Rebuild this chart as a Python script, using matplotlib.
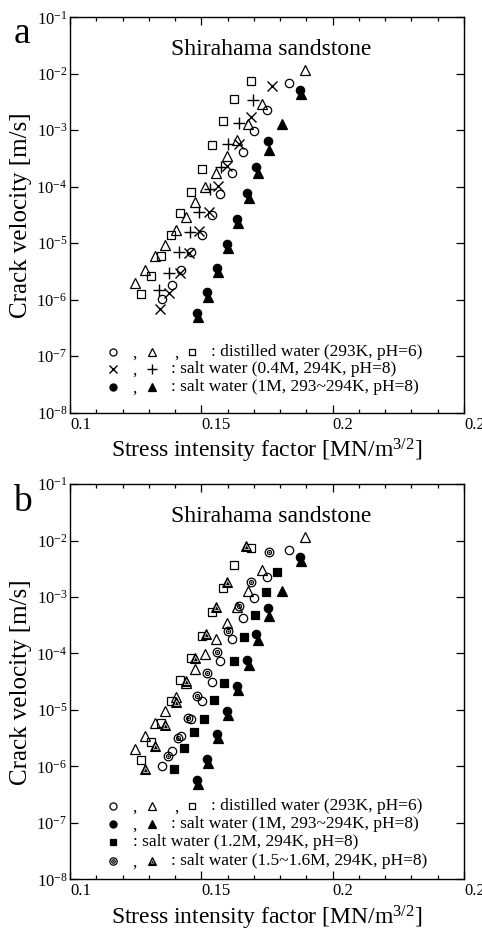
import matplotlib
matplotlib.use('Agg')
import matplotlib.pyplot as plt
from matplotlib.ticker import MultipleLocator, FixedLocator, NullLocator, FixedFormatter
import numpy as np

plt.rcParams['font.family'] = ['Liberation Serif', 'DejaVu Serif']
plt.rcParams['mathtext.fontset'] = 'custom'
plt.rcParams['mathtext.rm'] = 'Liberation Serif'
plt.rcParams['mathtext.it'] = 'Liberation Serif:italic'
plt.rcParams['mathtext.bf'] = 'Liberation Serif:bold'

# ---------------- data (K in MN/m^3/2, velocity in m/s) ----------------
dw_circle_K = [0.1835, 0.1749, 0.1700, 0.1657, 0.1617, 0.1571, 0.1539, 0.1501, 0.1459, 0.1423, 0.1387, 0.1349]
dw_circle_v = [6.84e-3, 2.26e-3, 9.7e-4, 4.18e-4, 1.77e-4, 7.4e-5, 3.17e-5, 1.41e-5, 6.9e-6, 3.39e-6, 1.84e-6, 1.02e-6]

dw_tri_K = [0.1895, 0.1730, 0.1679, 0.1635, 0.1597, 0.1556, 0.1514, 0.1476, 0.1440, 0.1404, 0.1362, 0.1324, 0.1286, 0.1247]
dw_tri_v = [1.15e-2, 2.96e-3, 1.28e-3, 6.7e-4, 3.5e-4, 1.77e-4, 9.8e-5, 5.4e-5, 2.96e-5, 1.72e-5, 9.4e-6, 5.8e-6, 3.4e-6, 2.0e-6]

dw_sq_K = [0.1688, 0.1625, 0.1581, 0.1539, 0.1501, 0.1459, 0.1419, 0.1383, 0.1346, 0.1307, 0.1269]
dw_sq_v = [7.43e-3, 3.63e-3, 1.46e-3, 5.44e-4, 2.05e-4, 8.17e-5, 3.40e-5, 1.41e-5, 5.98e-6, 2.65e-6, 1.28e-6]

s04_x_K = [0.1770, 0.1688, 0.1644, 0.1597, 0.1565, 0.1529, 0.1493, 0.1453, 0.1417, 0.1377, 0.1341]
s04_x_v = [5.98e-3, 1.68e-3, 5.67e-4, 2.32e-4, 1.01e-4, 3.62e-5, 1.65e-5, 6.58e-6, 3.0e-6, 1.33e-6, 6.8e-7]

s04_p_K = [0.1695, 0.1644, 0.1603, 0.1574, 0.1533, 0.1490, 0.1455, 0.1414, 0.1375, 0.1338]
s04_p_v = [3.49e-3, 1.35e-3, 5.67e-4, 2.2e-4, 9.12e-5, 3.62e-5, 1.59e-5, 6.85e-6, 3.0e-6, 1.5e-6]

s1_circle_K = [0.1876, 0.1754, 0.1708, 0.1674, 0.1636, 0.1598, 0.1560, 0.1522, 0.1483]
s1_circle_v = [5.19e-3, 6.41e-4, 2.23e-4, 7.59e-5, 2.64e-5, 9.55e-6, 3.68e-6, 1.36e-6, 5.67e-7]

s1_tri_K = [0.1879, 0.1806, 0.1758, 0.1716, 0.1681, 0.1640, 0.1601, 0.1563, 0.1525, 0.1487]
s1_tri_v = [4.32e-3, 1.28e-3, 4.54e-4, 1.75e-4, 6.32e-5, 2.24e-5, 8.13e-6, 3.13e-6, 1.13e-6, 4.82e-7]

s12_sq_K = [0.1789, 0.1746, 0.1704, 0.1664, 0.1624, 0.1586, 0.1548, 0.1510, 0.1473, 0.1435, 0.1397]
s12_sq_v = [2.77e-3, 1.23e-3, 4.74e-4, 1.92e-4, 7.43e-5, 3.04e-5, 1.5e-5, 6.93e-6, 4.04e-6, 2.11e-6, 9.1e-7]

s15_dc_K = [0.1758, 0.1688, 0.1644, 0.1601, 0.1561, 0.1523, 0.1485, 0.1448, 0.1410, 0.1374]
s15_dc_v = [6.24e-3, 1.84e-3, 6.95e-4, 2.55e-4, 1.07e-4, 4.44e-5, 1.79e-5, 7.34e-6, 3.16e-6, 1.5e-6]

s15_tri_K = [0.1670, 0.1597, 0.1556, 0.1516, 0.1476, 0.1440, 0.1404, 0.1362, 0.1324, 0.1286]
s15_tri_v = [7.96e-3, 1.84e-3, 6.67e-4, 2.21e-4, 8.4e-5, 3.24e-5, 1.37e-5, 5.3e-6, 2.31e-6, 9.1e-7]

x_ticks = [0.1, 0.15, 0.2, 0.25]
x_tick_labels = ['0.1', '0.15', '0.2', '0.25']
y_exponents = [-8, -7, -6, -5, -4, -3, -2, -1]

title = 'Shirahama sandstone'
xlabel = r'Stress intensity factor [MN/m$^{3/2}$]'
ylabel = 'Crack velocity [m/s]'

# ---------------- styles ----------------
MEW = 0.9
ST = {
    'ocirc': dict(marker='o', ms=6.0, mfc='none', mec='k', mew=MEW, ls='none'),
    'otri': dict(marker='^', ms=7.0, mfc='none', mec='k', mew=MEW, ls='none'),
    'osq': dict(marker='s', ms=5.2, mfc='none', mec='k', mew=MEW, ls='none'),
    'x': dict(marker='x', ms=7.0, mec='k', mew=1.0, ls='none'),
    'plus': dict(marker='+', ms=8.0, mec='k', mew=1.0, ls='none'),
    'fcirc': dict(marker='o', ms=6.0, mfc='k', mec='k', mew=MEW, ls='none'),
    'ftri': dict(marker='^', ms=7.0, mfc='k', mec='k', mew=MEW, ls='none'),
    'fsq': dict(marker='s', ms=5.3, mfc='k', mec='k', mew=MEW, ls='none'),
    'dc_out': dict(marker='o', ms=6.2, mfc='none', mec='k', mew=MEW, ls='none'),
    'dc_in': dict(marker='o', ms=3.0, mfc='none', mec='k', mew=0.8, ls='none'),
    'dc_dot': dict(marker='o', ms=1.0, mfc='k', mec='k', mew=0.3, ls='none'),
    'htri': dict(marker='^', ms=7.4, mfc='k', mec='k', mew=0.8, ls='none'),
    'htri_in': dict(marker='^', ms=3.6, mfc='k', mec='w', mew=0.5, ls='none'),
}

fig = plt.figure(figsize=(4.82, 9.31), dpi=100)
left, width, height = 70 / 482, 394 / 482, 0.4245
ax_a = fig.add_axes([left, 1 - 412.5 / 931, width, height])
ax_b = fig.add_axes([left, 1 - 879.3 / 931, width, height])


def setup(ax):
    ax.set_xscale('linear')
    ax.set_yscale('log')
    ax.set_xlim(0.1, 0.25)
    ax.set_ylim(1e-8, 1e-1)
    ax.xaxis.set_major_locator(FixedLocator(x_ticks))
    ax.xaxis.set_major_formatter(FixedFormatter(x_tick_labels))
    ax.xaxis.set_minor_locator(MultipleLocator(0.01))
    yt = [10.0 ** e for e in y_exponents]
    ax.yaxis.set_major_locator(FixedLocator(yt))
    ax.yaxis.set_major_formatter(FixedFormatter([r'$\mathregular{10^{%d}}$' % e for e in y_exponents]))
    ax.yaxis.set_minor_locator(NullLocator())
    ax.tick_params(which='both', direction='in', top=True, right=True, width=0.9, labelsize=12)
    ax.tick_params(which='major', length=5.8)
    ax.tick_params(which='minor', length=3.0)
    ax.tick_params(axis='x', pad=3)
    ax.tick_params(axis='y', pad=2)
    for lbl in ax.get_xticklabels():
        lbl.set_ha('left')
    for sp in ax.spines.values():
        sp.set_linewidth(1.0)
    ax.text(0.51, 0.905, title, transform=ax.transAxes, ha='center', va='baseline', fontsize=17)
    ax.text(0.5, -0.0974, xlabel, transform=ax.transAxes, ha='center', va='center', fontsize=17)
    ax.text(-0.1244, 0.5, ylabel, transform=ax.transAxes, ha='center', va='center',
            rotation=90, fontsize=18)


setup(ax_a)
setup(ax_b)


def plot_dist(ax):
    ax.plot(dw_circle_K, dw_circle_v, **ST['ocirc'])
    ax.plot(dw_tri_K, dw_tri_v, **ST['otri'])
    ax.plot(dw_sq_K, dw_sq_v, **ST['osq'])


def plot_1m(ax):
    ax.plot(s1_circle_K, s1_circle_v, **ST['fcirc'])
    ax.plot(s1_tri_K, s1_tri_v, **ST['ftri'])


# panel a
plot_dist(ax_a)
ax_a.plot(s04_x_K, s04_x_v, **ST['x'])
ax_a.plot(s04_p_K, s04_p_v, **ST['plus'])
plot_1m(ax_a)

# panel b
plot_dist(ax_b)
plot_1m(ax_b)
ax_b.plot(s12_sq_K, s12_sq_v, **ST['fsq'])
for key in ('dc_out', 'dc_in', 'dc_dot'):
    ax_b.plot(s15_dc_K, s15_dc_v, **ST[key])
for key in ('htri', 'htri_in'):
    ax_b.plot(s15_tri_K, s15_tri_v, **ST[key])

# ---------------- legends (drawn as text + symbols in axes fraction) ----------------
LX1, LX2, LX3 = 0.1091, 0.2081, 0.3096
CX1, CX2 = 0.165, 0.2716
LEG_FS = 12.5


def sym(ax, x, y, keys, scale=0.85):
    for k in keys:
        st = dict(ST[k])
        st['ms'] = st['ms'] * scale
        if k == 'htri_in':
            st['ms'] = 2.4
            st['mew'] = 0.35
        ax.plot([x], [y], transform=ax.transAxes, clip_on=False, **st)


def comma(ax, x, y):
    ax.text(x, y, ',', transform=ax.transAxes, ha='center', va='center', fontsize=LEG_FS)


def row(ax, y, syms, text_x, text):
    xs = [LX1, LX2, LX3]
    for i, keys in enumerate(syms):
        sym(ax, xs[i], y, keys)
        if i < len(syms) - 1:
            comma(ax, [CX1, CX2][i], y - 0.004)
    ax.text(text_x, y, text, transform=ax.transAxes, ha='left', va='center', fontsize=LEG_FS)


row(ax_a, 0.1539, [['ocirc'], ['otri'], ['osq']], 0.3571, ': distilled water (293K, pH=6)')
row(ax_a, 0.1093, [['x'], ['plus']], 0.2556, ': salt water (0.4M, 294K, pH=8)')
row(ax_a, 0.0653, [['fcirc'], ['ftri']], 0.2556, ': salt water (1M, 293~294K, pH=8)')

row(ax_b, 0.1852, [['ocirc'], ['otri'], ['osq']], 0.3571, ': distilled water (293K, pH=6)')
row(ax_b, 0.1389, [['fcirc'], ['ftri']], 0.2556, ': salt water (1M, 293~294K, pH=8)')
row(ax_b, 0.0934, [['fsq']], 0.1607, ': salt water (1.2M, 294K, pH=8)')
row(ax_b, 0.0461, [['dc_out', 'dc_in', 'dc_dot'], ['htri', 'htri_in']], 0.2556,
    ': salt water (1.5~1.6M, 294K, pH=8)')

fig.text(22 / 482, 1 - 43.3 / 931, 'a', ha='center', va='baseline', fontsize=27)
fig.text(22 / 482, 1 - 510.6 / 931, 'b', ha='center', va='baseline', fontsize=27)

fig.savefig('out.png', dpi=100)
